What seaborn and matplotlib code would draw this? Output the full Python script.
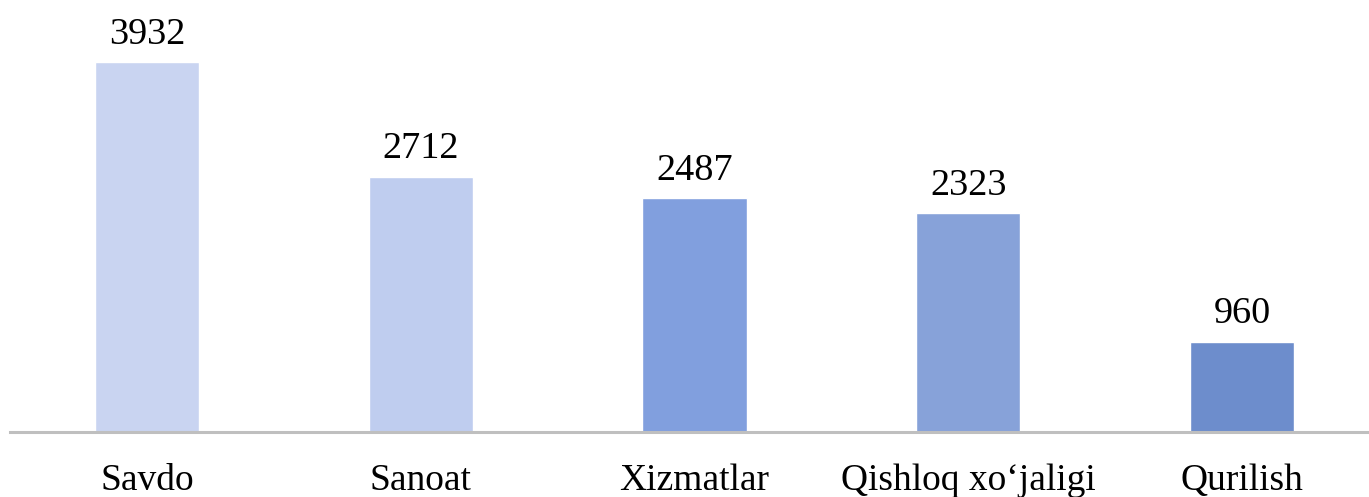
import matplotlib
matplotlib.use("Agg")
import matplotlib.pyplot as plt
import seaborn as sns
import pandas as pd

categories = ["Savdo", "Sanoat", "Xizmatlar", "Qishloq xo\u2018jaligi", "Qurilish"]
values = [3932, 2712, 2487, 2323, 960]
colors = ["#c9d4f1", "#bfcdef", "#819fde", "#87a2d9", "#6d8dcc"]

sns.set_theme(style="white")
plt.rcParams["font.family"] = ["Liberation Serif", "DejaVu Serif"]

df = pd.DataFrame({"cat": categories, "val": values})

W, H = 1369, 497
fig = plt.figure(figsize=(W / 100, H / 100), dpi=100)
ax = fig.add_axes([10 / W, (H - 432) / H, 1369 / W, 414 / H])

sns.barplot(data=df, x="cat", y="val", hue="cat", palette=colors, legend=False,
            width=0.38, ax=ax, saturation=1)

ax.set_xlim(-0.5, 4.5)
ax.set_ylim(0, 4400)
for p, v in zip(ax.patches, values):
    ax.annotate(f"{v}", (p.get_x() + p.get_width() / 2, p.get_height()),
                xytext=(0, 7.5), textcoords="offset points",
                ha="center", va="bottom", fontsize=27.5, color="black")

ax.set_xlabel("")
ax.set_ylabel("")
ax.set_yticks([])
ax.tick_params(axis="x", length=0, pad=22.5, labelsize=27, labelcolor="black")
for s in ["top", "right", "left"]:
    ax.spines[s].set_visible(False)
ax.spines["bottom"].set_color("#bfbfbf")
ax.spines["bottom"].set_linewidth(2.2)

fig.savefig("out.png", dpi=100)
